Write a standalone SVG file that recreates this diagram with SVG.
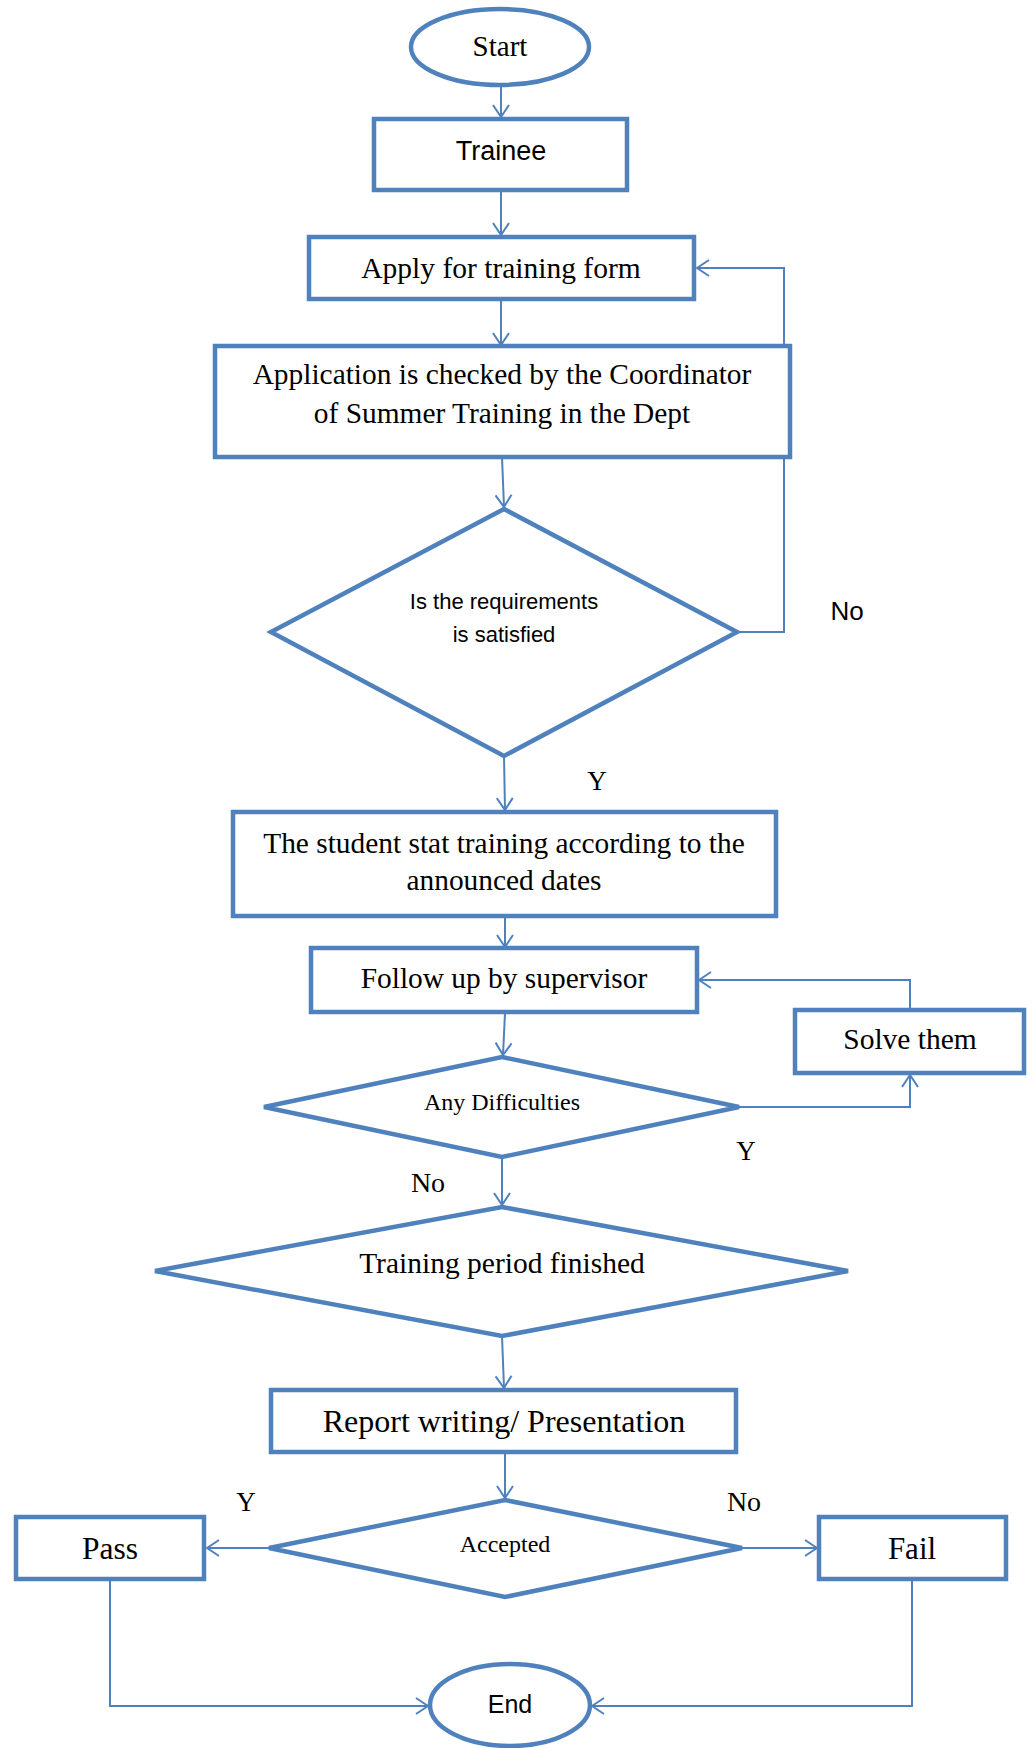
<svg xmlns="http://www.w3.org/2000/svg" width="1035" height="1748" viewBox="0 0 1035 1748">
  <style>
    .box { fill: #ffffff; stroke: #4F81BD; stroke-width: 4.5; }
    .line { fill: none; stroke: #4F81BD; stroke-width: 2; }
    .serif { font-family: "Liberation Serif", "Times New Roman", serif; fill: #000; text-anchor: middle; }
    .sans { font-family: "Liberation Sans", Arial, sans-serif; fill: #000; text-anchor: middle; }
  </style>
  <defs>
    <marker id="arrow" viewBox="0 0 14 18" refX="13" refY="9" markerWidth="14" markerHeight="18" markerUnits="userSpaceOnUse" orient="auto">
      <path d="M1,1 L13,9 L1,17" fill="none" stroke="#4F81BD" stroke-width="2"/>
    </marker>
  </defs>

  <rect width="1035" height="1748" fill="#ffffff"/>

  <!-- connectors -->
  <g id="connectors" class="line" marker-end="url(#arrow)">
    <path d="M501,86 L501,117"/>
    <path d="M501,191 L501,235"/>
    <path d="M501,299 L501,345"/>
    <path d="M502,457 L504,507"/>
    <path d="M737,632 L784,632 L784,268 L697,268"/>
    <path d="M504,756 L505,810"/>
    <path d="M505,917 L505,947"/>
    <path d="M910,1010 L910,980 L699,980"/>
    <path d="M505,1013 L503,1055"/>
    <path d="M739,1107 L910,1107 L910,1075"/>
    <path d="M502,1157 L502,1205"/>
    <path d="M502,1336 L504,1388"/>
    <path d="M505,1453 L505,1498"/>
    <path d="M269,1548 L207,1548"/>
    <path d="M742,1548 L817,1548"/>
    <path d="M110,1580 L110,1706 L428,1706"/>
    <path d="M912,1580 L912,1706 L592,1706"/>
  </g>

  <!-- nodes -->
  <g id="start">
    <ellipse class="box" cx="500" cy="47" rx="89" ry="38"/>
    <text class="serif" x="500" y="56" font-size="29">Start</text>
  </g>
  <g id="trainee">
    <rect class="box" x="374" y="119" width="253" height="71"/>
    <text class="sans" x="501" y="160" font-size="27">Trainee</text>
  </g>
  <g id="apply">
    <rect class="box" x="309" y="237" width="385" height="62"/>
    <text class="serif" x="501" y="278" font-size="29.5">Apply for training form</text>
  </g>
  <g id="check">
    <rect class="box" x="215" y="346" width="575" height="111"/>
    <text class="serif" x="502" y="384" font-size="29.4">Application is checked by the Coordinator</text>
    <text class="serif" x="502" y="423" font-size="29.4">of Summer Training in the Dept</text>
  </g>
  <g id="requirements">
    <polygon class="box" points="504,509 737,632 504,756 271,632"/>
    <text class="sans" x="504" y="609" font-size="22">Is the requirements</text>
    <text class="sans" x="504" y="642" font-size="22">is satisfied</text>
  </g>
  <g id="start-training">
    <rect class="box" x="233" y="812" width="543" height="104"/>
    <text class="serif" x="504" y="853" font-size="29.4">The student stat training according to the</text>
    <text class="serif" x="504" y="890" font-size="29.4">announced dates</text>
  </g>
  <g id="follow-up">
    <rect class="box" x="311" y="948" width="386" height="64"/>
    <text class="serif" x="504" y="988" font-size="29.4">Follow up by supervisor</text>
  </g>
  <g id="solve">
    <rect class="box" x="795" y="1010" width="229" height="63"/>
    <text class="serif" x="910" y="1049" font-size="29.5">Solve them</text>
  </g>
  <g id="difficulties">
    <polygon class="box" points="502,1057 739,1107 502,1157 264,1107"/>
    <text class="serif" x="502" y="1110" font-size="24">Any Difficulties</text>
  </g>
  <g id="period-finished">
    <polygon class="box" points="502,1207 848,1271 502,1336 155,1271"/>
    <text class="serif" x="502" y="1273" font-size="29.5">Training period finished</text>
  </g>
  <g id="report">
    <rect class="box" x="271" y="1390" width="465" height="62"/>
    <text class="serif" x="504" y="1432" font-size="32">Report writing/ Presentation</text>
  </g>
  <g id="accepted">
    <polygon class="box" points="505,1500 742,1548 505,1597 269,1548"/>
    <text class="serif" x="505" y="1552" font-size="24">Accepted</text>
  </g>
  <g id="pass">
    <rect class="box" x="16" y="1517" width="188" height="62"/>
    <text class="serif" x="110" y="1559" font-size="31.5">Pass</text>
  </g>
  <g id="fail">
    <rect class="box" x="819" y="1517" width="187" height="62"/>
    <text class="serif" x="912" y="1559" font-size="31">Fail</text>
  </g>
  <g id="end">
    <ellipse class="box" cx="510" cy="1705" rx="80" ry="41"/>
    <text class="sans" x="510" y="1713" font-size="25">End</text>
  </g>

  <!-- branch labels -->
  <g id="labels">
    <text class="sans" x="847" y="620" font-size="26">No</text>
    <text class="serif" x="597" y="790" font-size="27">Y</text>
    <text class="serif" x="746" y="1160" font-size="27">Y</text>
    <text class="serif" x="428" y="1192" font-size="28">No</text>
    <text class="serif" x="246" y="1511" font-size="27">Y</text>
    <text class="serif" x="744" y="1511" font-size="28">No</text>
  </g>
</svg>
